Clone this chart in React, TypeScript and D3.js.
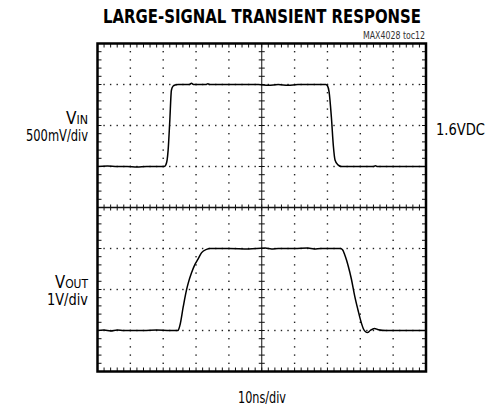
import React from "react";
import * as d3 from "d3";

// Time axis in ns (10 ns/div, 10 divisions)
const vinTime = [0, 3, 6, 9, 12, 15, 18, 20.3, 20.8, 21.2, 21.5, 22.0, 22.5, 23.0, 23.6, 24.5, 28, 28.6, 29.2, 33, 33.6, 34.2, 40, 49, 52, 55, 58, 61, 66, 69.5, 70.0, 70.5, 71.2, 71.8, 72.3, 73.2, 74.3, 80, 84, 84.6, 85.2, 90, 100];
const vinVolts = [0, 0.005, 0, 0, -0.005, 0, 0, 0, 0.02, 0.08, 0.2, 0.55, 0.93, 0.98, 0.995, 1.0, 1.0, 1.015, 1.0, 1.0, 1.01, 1.0, 1.0, 1.0, 0.99, 1.0, 0.99, 1.0, 1.0, 1.0, 0.985, 0.91, 0.6, 0.25, 0.08, 0.02, 0, 0, 0, 0.01, 0, 0, 0];

const voutTime = [0, 2, 4, 6, 8, 10, 14, 18, 22, 24.3, 24.6, 25.1, 26.1, 27.1, 27.6, 28.6, 29.6, 30.6, 31.7, 33.2, 34.2, 40, 46, 51, 53, 55, 60, 64, 66, 68, 72, 74.0, 74.6, 75.2, 75.8, 76.3, 77.3, 78.3, 79.3, 80.3, 81.0, 81.6, 82.2, 83.0, 84.3, 85.5, 87.9, 94, 100];
const voutVolts = [0, 0.01, -0.01, 0.015, 0, 0, 0, 0.01, 0, 0, 0.01, 0.13, 0.58, 0.99, 1.15, 1.4, 1.6, 1.74, 1.9, 1.98, 2.0, 2.0, 1.99, 2.01, 1.99, 2.0, 2.0, 2.01, 1.99, 2.0, 2.0, 2.0, 1.97, 1.86, 1.72, 1.58, 1.25, 0.84, 0.5, 0.19, 0.03, -0.03, -0.05, 0.0, 0.05, 0.02, 0, 0, 0];

const title = "LARGE-SIGNAL TRANSIENT RESPONSE";
const tocLabel = "MAX4028 toc12";
const xLabel = "10ns/div";
const vinScaleLabel = "500mV/div";
const voutScaleLabel = "1V/div";
const offsetLabel = "1.6VDC";

const vinVPerDiv = 0.5;
const vinZeroDiv = 5;
const voutVPerDiv = 1;
const voutZeroDiv = 1;

const X0 = 97.5, X1 = 426, Y0 = 43.5, Y1 = 371.5;
const NX = 10, NY = 8, MINOR = 5;

const FONT = "'Liberation Sans Narrow', 'DejaVu Sans Condensed', Arial, sans-serif";

export default function App() {
  const x = d3.scaleLinear().domain([0, 100]).range([X0, X1]);
  const yDiv = d3.scaleLinear().domain([0, NY]).range([Y1, Y0]);
  const gx = d3.scaleLinear().domain([0, NX]).range([X0, X1]);

  const vinY = (v: number) => yDiv(vinZeroDiv + v / vinVPerDiv);
  const voutY = (v: number) => yDiv(voutZeroDiv + v / voutVPerDiv);

  const line = d3.line<[number, number]>().curve(d3.curveMonotoneX);
  const vinPath = line(vinTime.map((t, i) => [x(t), vinY(vinVolts[i])]) as [number, number][]);
  const voutPath = line(voutTime.map((t, i) => [x(t), voutY(voutVolts[i])]) as [number, number][]);

  const xc = gx(NX / 2);
  const yc = yDiv(NY / 2);

  const dots: JSX.Element[] = [];
  for (let i = 1; i < NX; i++) {
    if (i === NX / 2) continue;
    const px = gx(i);
    for (let k = 1; k < NY * MINOR; k++) {
      const py = yDiv(k / MINOR);
      dots.push(<rect key={`v${i}-${k}`} x={px - 0.7} y={py - 0.7} width={1.4} height={1.4} fill="#222" />);
    }
  }
  for (let j = 1; j < NY; j++) {
    if (j === NY / 2) continue;
    const py = yDiv(j);
    for (let k = 1; k < NX * MINOR; k++) {
      const px = gx(k / MINOR);
      dots.push(<rect key={`h${j}-${k}`} x={px - 0.7} y={py - 0.7} width={1.4} height={1.4} fill="#222" />);
    }
  }

  const ticks: JSX.Element[] = [];
  for (let k = 1; k < NX * MINOR; k++) {
    const px = gx(k / MINOR);
    ticks.push(<line key={`tt${k}`} x1={px} x2={px} y1={Y0} y2={Y0 + 4} />);
    ticks.push(<line key={`tb${k}`} x1={px} x2={px} y1={Y1} y2={Y1 - 4} />);
    ticks.push(<line key={`tc${k}`} x1={px} x2={px} y1={yc - 3} y2={yc + 3} />);
  }
  for (let k = 1; k < NY * MINOR; k++) {
    const py = yDiv(k / MINOR);
    ticks.push(<line key={`tl${k}`} x1={X0} x2={X0 + 4} y1={py} y2={py} />);
    ticks.push(<line key={`tr${k}`} x1={X1} x2={X1 - 4} y1={py} y2={py} />);
    ticks.push(<line key={`tv${k}`} x1={xc - 3} x2={xc + 3} y1={py} y2={py} />);
  }

  return (
    <svg width={496} height={411} style={{ position: "absolute", left: 0, top: 0, background: "#fff" }} fontFamily={FONT}>
      <rect x={0} y={0} width={496} height={411} fill="#fff" />
      <text x={103} y={23} fontSize={20} fontWeight="bold" textLength={318} lengthAdjust="spacingAndGlyphs">{title}</text>
      <text x={363} y={38.5} fontSize={10} fill="#333" textLength={62} lengthAdjust="spacingAndGlyphs">{tocLabel}</text>

      <g>{dots}</g>
      <g stroke="#111" strokeWidth={1}>{ticks}</g>
      <line x1={X0} x2={X1} y1={yc} y2={yc} stroke="#111" strokeWidth={1.3} />
      <line x1={xc} x2={xc} y1={Y0} y2={Y1} stroke="#111" strokeWidth={1} />
      <rect x={X0} y={Y0} width={X1 - X0} height={Y1 - Y0} fill="none" stroke="#000" strokeWidth={2.5} />

      <path d={vinPath || ""} fill="none" stroke="#000" strokeWidth={1.5} />
      <path d={voutPath || ""} fill="none" stroke="#000" strokeWidth={1.5} />

      <text x={66} y={124} fontSize={18} textLength={22} lengthAdjust="spacingAndGlyphs">V<tspan fontSize={13}>IN</tspan></text>
      <text x={26} y={141} fontSize={16} textLength={62} lengthAdjust="spacingAndGlyphs">{vinScaleLabel}</text>
      <text x={55} y={288} fontSize={18} textLength={33} lengthAdjust="spacingAndGlyphs">V<tspan fontSize={13}>OUT</tspan></text>
      <text x={47} y={305} fontSize={16} textLength={41} lengthAdjust="spacingAndGlyphs">{voutScaleLabel}</text>
      <text x={436} y={135} fontSize={16} textLength={49} lengthAdjust="spacingAndGlyphs">{offsetLabel}</text>
      <text x={238} y={403} fontSize={16} textLength={48} lengthAdjust="spacingAndGlyphs">{xLabel}</text>
    </svg>
  );
}
